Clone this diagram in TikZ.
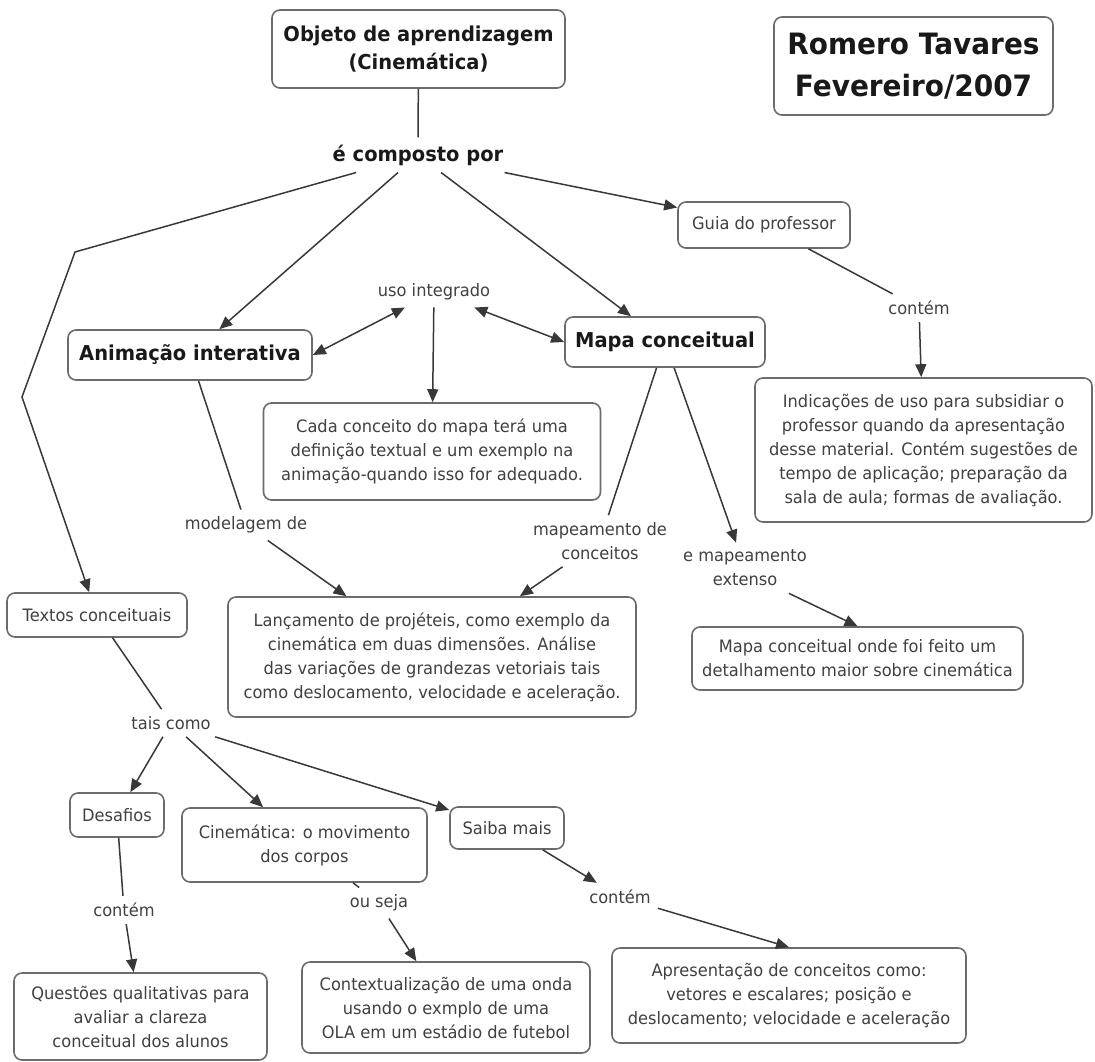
\documentclass[tikz,border=0pt]{standalone}
\usepackage{fontspec}
\setmainfont[FakeStretch=0.95]{DejaVu Sans}
\usepackage{tikz}
\usetikzlibrary{arrows.meta, positioning}
\definecolor{bordacor}{rgb}{0.42,0.42,0.42}
\definecolor{linhacor}{rgb}{0.22,0.22,0.22}
\definecolor{textocor}{rgb}{0.25,0.25,0.25}
\definecolor{titulocor}{rgb}{0.1,0.1,0.1}

\begin{document}
\begin{tikzpicture}[x=1pt, y=-1pt,
    caixa/.style={rectangle, rounded corners=8pt, draw=bordacor, line width=1.6pt, align=center, inner sep=0pt, text=textocor, font=\fontsize{17.1}{24}\selectfont},
    caixaforte/.style={caixa, text=titulocor, font=\fontsize{20.5}{28}\selectfont\bfseries},
    ligacao/.style={align=center, inner sep=7pt, text=textocor, font=\fontsize{17.1}{24}\selectfont},
    linha/.style={line width=1.5pt, draw=linhacor},
    seta/.style={linha, -{Triangle[length=13pt, width=11pt]}},
    setadupla/.style={linha, {Triangle[length=13pt, width=11pt]}-{Triangle[length=13pt, width=11pt]}}
]
\useasboundingbox (0,0) rectangle (1095,1061);

\node[caixaforte, minimum width=293, minimum height=78] (objeto) at (418.5,49) {Objeto de aprendizagem\\(Cinemática)};
\node[caixaforte, font=\fontsize{29.4}{42}\selectfont\bfseries, minimum width=279, minimum height=98] (autor) at (913.5,66) {Romero Tavares\\Fevereiro/2007};
\node[ligacao, font=\fontsize{20.5}{28}\selectfont\bfseries, text=titulocor] (composto) at (418,155) {é composto por};
\node[caixa, minimum width=172, minimum height=46] (guia) at (764,225) {Guia do professor};
\node[caixaforte, minimum width=244, minimum height=50] (animacao) at (190,355) {Animação interativa};
\node[caixaforte, minimum width=200, minimum height=50] (mapa) at (665,342) {Mapa conceitual};
\node[ligacao] (uso) at (434,292) {uso integrado};
\node[ligacao] (contem1) at (919,308) {contém};
\node[caixa, minimum width=337, minimum height=97] (cada) at (432,451.5) {Cada conceito do mapa terá uma\\definição textual e um exemplo na\\animação-quando isso for adequado.};
\node[caixa, minimum width=337, minimum height=144] (indicacoes) at (923.5,450) {Indicações de uso para subsidiar o\\professor quando da apresentação\\desse material. Contém sugestões de\\tempo de aplicação; preparação da\\sala de aula; formas de avaliação.};
\node[ligacao] (modelagem) at (246,525) {modelagem de};
\node[ligacao] (mapeamento) at (600,541) {mapeamento de\\conceitos};
\node[ligacao] (extenso) at (745,568) {e mapeamento\\extenso};
\node[caixa, minimum width=180, minimum height=44] (textos) at (97,615) {Textos conceituais};
\node[caixa, minimum width=408, minimum height=120] (lancamento) at (432,657) {Lançamento de projéteis, como exemplo da\\cinemática em duas dimensões. Análise\\das variações de grandezas vetoriais tais\\como deslocamento, velocidade e aceleração.};
\node[caixa, minimum width=331, minimum height=63] (detalhe) at (857.5,658.5) {Mapa conceitual onde foi feito um\\detalhamento maior sobre cinemática};
\node[ligacao] (tais) at (171,723) {tais como};
\node[caixa, minimum width=94, minimum height=44] (desafios) at (117,815) {Desafios};
\node[caixa, minimum width=245, minimum height=74] (cinematica) at (304.5,845) {Cinemática: o movimento\\dos corpos};
\node[caixa, minimum width=114, minimum height=42] (saiba) at (507,828) {Saiba mais};
\node[ligacao] (contem2) at (124,910) {contém};
\node[ligacao] (ouseja) at (379,903) {ou seja};
\node[ligacao] (contem3) at (620,897) {contém};
\node[caixa, minimum width=253, minimum height=87] (questoes) at (140.5,1016.5) {Questões qualitativas para\\avaliar a clareza\\conceitual dos alunos};
\node[caixa, minimum width=288, minimum height=91] (contexto) at (446,1007.5) {Contextualização de uma onda\\usando o exmplo de uma\\OLA em um estádio de futebol};
\node[caixa, minimum width=354, minimum height=95] (apresentacao) at (789,995.5) {Apresentação de conceitos como:\\vetores e escalares; posição e\\deslocamento; velocidade e aceleração};

\coordinate (dobra1) at (75,252);
\coordinate (dobra2) at (22,397);

\draw[linha] (objeto) -- (composto);
\draw[seta] (composto) -- (dobra1) -- (dobra2) -- (textos);
\draw[seta] (composto) -- (animacao);
\draw[seta] (composto) -- (mapa);
\draw[seta] (composto) -- (guia);
\draw[setadupla] (animacao.east) -- (uso.208);
\draw[setadupla] (uso.-21) -- (mapa.west);
\draw[seta] (uso) -- (cada);
\draw[linha] (guia) -- (contem1);
\draw[seta] (contem1) -- (indicacoes);
\draw[linha] (animacao) -- (modelagem);
\draw[seta] (modelagem) -- (lancamento);
\draw[linha] (mapa) -- (mapeamento);
\draw[seta] (mapeamento) -- (lancamento);
\draw[seta] (mapa) -- (extenso);
\draw[seta] (extenso.-30) -- (detalhe.north);
\draw[linha] (textos) -- (tais);
\draw[seta] (tais) -- (desafios);
\draw[seta] (tais) -- (cinematica);
\draw[seta] (tais) -- (saiba);
\draw[linha] (desafios) -- (contem2);
\draw[seta] (contem2) -- (questoes);
\draw[linha] (cinematica) -- (ouseja);
\draw[seta] (ouseja) -- (contexto);
\draw[seta] (saiba) -- (contem3);
\draw[seta] (contem3) -- (apresentacao.north);

\end{tikzpicture}
\end{document}
